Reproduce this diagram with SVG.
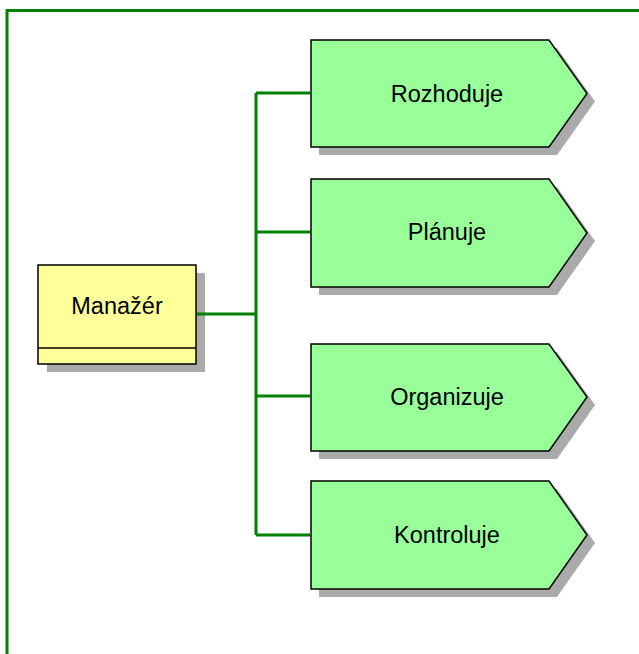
<svg xmlns="http://www.w3.org/2000/svg" width="639" height="654" viewBox="0 0 639 654">
<defs>
<style>
.frame{fill:none;stroke:#008000;stroke-width:3}
.conn{fill:none;stroke:#008000;stroke-width:3}
.shadow{fill:#aaaaaa;stroke:none}
.func{fill:#99ff99;stroke:#000;stroke-width:1.5}
.org{fill:#ffff99;stroke:#000;stroke-width:1.5}
.lbl{font-family:"Liberation Sans",Arial,sans-serif;font-size:23.5px;fill:#000;text-anchor:middle}
</style>
</defs>
<rect width="639" height="654" fill="#fff"/>
<path class="frame" d="M7,660 V10.5 H645"/>
<g id="manazer">
<rect class="shadow" x="47" y="273" width="158" height="99"/>
<rect class="org" x="38" y="265" width="158" height="99"/>
<line x1="38" y1="348" x2="196" y2="348" stroke="#000" stroke-width="1.5"/>
<text class="lbl" x="117" y="314">Manažér</text>
</g>
<g id="rozhoduje">
<path class="shadow" d="M319,48 H557 L595,101.5 L557,155 H319 Z"/>
<path class="func" d="M311,40 H549 L587,93.5 L549,147 H311 Z"/>
<text class="lbl" x="447" y="102">Rozhoduje</text>
</g>
<g id="planuje">
<path class="shadow" d="M319,187 H557 L595,241 L557,295 H319 Z"/>
<path class="func" d="M311,179 H549 L587,233 L549,287 H311 Z"/>
<text class="lbl" x="447" y="240">Plánuje</text>
</g>
<g id="organizuje">
<path class="shadow" d="M319,352 H557 L595,405 L557,459 H319 Z"/>
<path class="func" d="M311,344 H549 L587,397 L549,451 H311 Z"/>
<text class="lbl" x="447" y="405">Organizuje</text>
</g>
<g id="kontroluje">
<path class="shadow" d="M319,489 H557 L595,543 L557,597 H319 Z"/>
<path class="func" d="M311,481 H549 L587,535 L549,589 H311 Z"/>
<text class="lbl" x="447" y="543">Kontroluje</text>
</g>
<g id="connectors">
<path class="conn" d="M197,314 H256 M256,93 V535 M256,93 H310 M256,232 H310 M256,396 H310 M256,535 H310"/>
</g>
</svg>
